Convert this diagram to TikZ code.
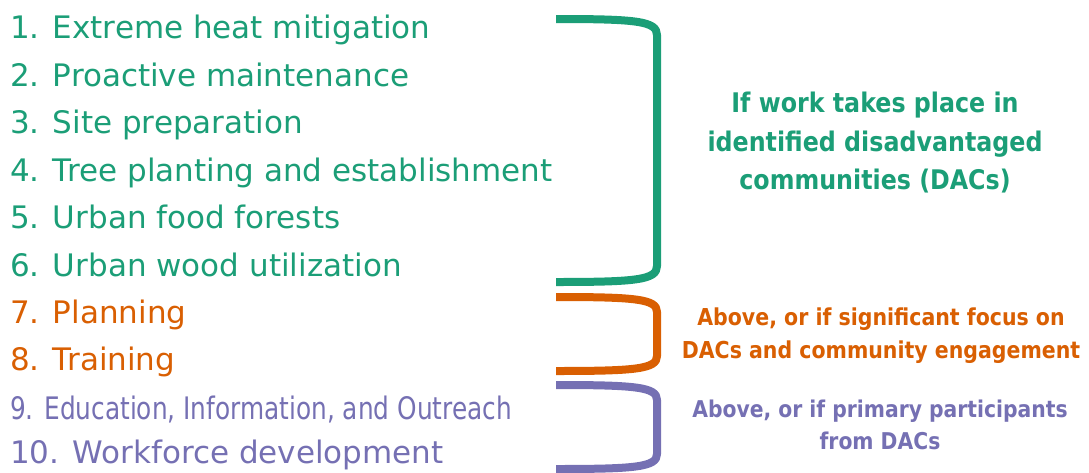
\documentclass[tikz,border=0pt]{standalone}
\usepackage{fontspec}
\setmainfont{DejaVu Sans}
\newfontfamily\notefont[FakeStretch=0.88]{DejaVu Sans}
\usepackage{tikz}
\usetikzlibrary{backgrounds}
\pgfdeclarelayer{edgelayer}
\pgfdeclarelayer{nodelayer}
\pgfsetlayers{edgelayer,nodelayer,main}
\definecolor{dacteal}{HTML}{1B9E77}
\definecolor{dacorange}{HTML}{D95F02}
\definecolor{dacpurple}{HTML}{7570B3}
\tikzstyle{none}=[inner sep=0pt]
\tikzstyle{item}=[anchor=base west,inner sep=0pt,font=\fontsize{31}{31}\selectfont]
\tikzstyle{note}=[align=center,inner sep=0pt]
\tikzstyle{brace}=[line width=8pt,line cap=butt,line join=round]

\begin{document}
\begin{tikzpicture}[x=1pt,y=-1pt]
	\useasboundingbox (0,0) rectangle (1089,472);
	\begin{pgfonlayer}{nodelayer}
		\node [style=item, text=dacteal] (i1) at (10, 38) {1. Extreme heat mitigation};
		\node [style=item, text=dacteal] (i2) at (10, 86) {2. Proactive maintenance};
		\node [style=item, text=dacteal] (i3) at (10, 133) {3. Site preparation};
		\node [style=item, text=dacteal] (i4) at (10, 181) {4. Tree planting and establishment};
		\node [style=item, text=dacteal] (i5) at (10, 228) {5. Urban food forests};
		\node [style=item, text=dacteal] (i6) at (10, 276) {6. Urban wood utilization};
		\node [style=item, text=dacorange] (i7) at (10, 323) {7. Planning};
		\node [style=item, text=dacorange] (i8) at (10, 370) {8. Training};
		\node [style=item, text=dacpurple] (i9) at (10, 419) {\scalebox{0.8}[1]{9. Education, Information, and Outreach}};
		\node [style=item, text=dacpurple] (i10) at (10, 463) {10. Workforce development};
		\node [style=note, text=dacteal, font=\notefont\bfseries\fontsize{27}{38.5}\selectfont] (gnote) at (875, 143) {If work takes place in\\identified disadvantaged\\communities (DACs)};
		\node [style=note, text=dacorange, font=\notefont\bfseries\fontsize{23.3}{33}\selectfont] (onote) at (881, 336) {Above, or if significant focus on\\DACs and community engagement};
		\node [style=note, text=dacpurple, font=\notefont\bfseries\fontsize{23.1}{32}\selectfont] (pnote) at (880, 425) {Above, or if primary participants\\from DACs};
		\node [style=none] (GTL) at (556, 19) {};
		\node [style=none] (GTR) at (657, 35) {};
		\node [style=none] (GBR) at (657, 266) {};
		\node [style=none] (GBL) at (556, 282) {};
		\node [style=none] (OTL) at (556, 297) {};
		\node [style=none] (OTR) at (657, 312) {};
		\node [style=none] (OBR) at (657, 356) {};
		\node [style=none] (OBL) at (556, 371) {};
		\node [style=none] (PTL) at (556, 385) {};
		\node [style=none] (PTR) at (657, 400) {};
		\node [style=none] (PBR) at (657, 454) {};
		\node [style=none] (PBL) at (556, 469) {};
	\end{pgfonlayer}
	\begin{pgfonlayer}{edgelayer}
		\draw [style=brace, draw=dacteal] (GTL.center) .. controls +(80,0) and +(0,-14) .. (GTR.center) -- (GBR.center) .. controls +(0,14) and +(80,0) .. (GBL.center);
		\draw [style=brace, draw=dacorange] (OTL.center) .. controls +(80,0) and +(0,-13) .. (OTR.center) -- (OBR.center) .. controls +(0,13) and +(80,0) .. (OBL.center);
		\draw [style=brace, draw=dacpurple] (PTL.center) .. controls +(80,0) and +(0,-13) .. (PTR.center) -- (PBR.center) .. controls +(0,13) and +(80,0) .. (PBL.center);
	\end{pgfonlayer}
\end{tikzpicture}
\end{document}
